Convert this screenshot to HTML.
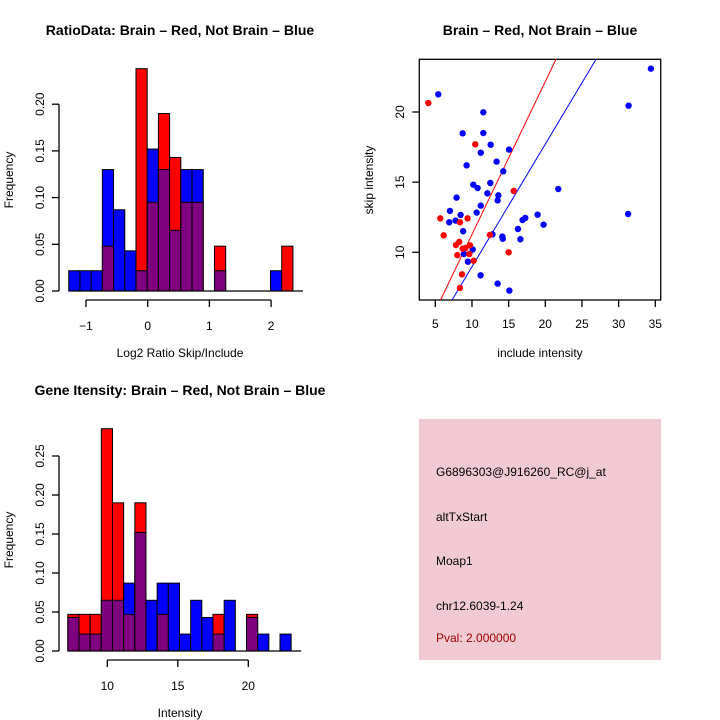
<!DOCTYPE html>
<html><head><meta charset="utf-8"><style>
html,body{margin:0;padding:0;background:#fff;}
svg{display:block;font-family:"Liberation Sans",sans-serif;}
</style></head><body>
<svg id="c" width="720" height="720" viewBox="0 0 720 720">
<rect x="0" y="0" width="720" height="720" fill="#fff"/>
<text x="180" y="35" font-size="14" font-weight="bold" text-anchor="middle">RatioData: Brain – Red, Not Brain – Blue</text>
<text x="540" y="35" font-size="14" font-weight="bold" text-anchor="middle">Brain – Red, Not Brain – Blue</text>
<text x="180" y="395" font-size="14" font-weight="bold" text-anchor="middle">Gene Itensity: Brain – Red, Not Brain – Blue</text>
<text x="180" y="357" font-size="12" text-anchor="middle">Log2 Ratio Skip/Include</text>
<text x="180" y="717" font-size="12" text-anchor="middle">Intensity</text>
<text x="540" y="357" font-size="12" text-anchor="middle">include intensity</text>
<text transform="translate(13,180) rotate(-90)" font-size="12" text-anchor="middle">Frequency</text>
<text transform="translate(13,540) rotate(-90)" font-size="12" text-anchor="middle">Frequency</text>
<text transform="translate(373,180) rotate(-90)" font-size="12" text-anchor="middle">skip intensity</text>
<g>
<rect x="419" y="419" width="242" height="241" fill="#f2cad3"/>
<text x="436" y="476" font-size="12">G6896303@J916260_RC@j_at</text>
<text x="436" y="521" font-size="12">altTxStart</text>
<text x="436" y="565" font-size="12">Moap1</text>
<text x="436" y="610" font-size="12">chr12.6039-1.24</text>
<text x="436" y="642" font-size="12" fill="#a00000">Pval: 2.000000</text>
</g>
<g id="g1"></g><g id="g2"></g><g id="g3"></g>
</svg>
<script>
// Ratio histogram data
const ratioBinStart = -1.28, ratioBinWidth = 0.1817;
const ratioBlue = [0.0217,0.0217,0.0217,0.13,0.087,0.043,0.0217,0.152,0.13,0.065,0.13,0.13,0,0.0217,0,0,0,0,0.0217,0];
const ratioRed  = [0,0,0,0.048,0,0,0.238,0.095,0.19,0.143,0.095,0.095,0,0.048,0,0,0,0,0,0.048];
const ratioXTicks = [-1,0,1,2];
const ratioYTicks = ["0.00","0.05","0.10","0.15","0.20"];
// Intensity histogram data
const intBinStart = 7.2, intBinWidth = 0.792;
const intBlue = [0.043,0.0217,0.0217,0.065,0.065,0.087,0.152,0.065,0.087,0.087,0.0217,0.065,0.043,0.0217,0.065,0,0.043,0.0217,0,0.0217];
const intRed  = [0.047,0.047,0.047,0.285,0.19,0.047,0.19,0,0.047,0,0,0,0,0.047,0,0,0.047,0,0,0];
const intXTicks = [10,15,20];
const intYTicks = ["0.00","0.05","0.10","0.15","0.20","0.25"];
// Scatter data
const blueX = [5.4,11.55,8.73,11.55,12.55,15.05,11.2,13.36,9.27,14.27,10.18,10.77,12.5,12.1,13.6,13.5,21.77,7.9,11.2,7.0,10.64,8.45,7.77,6.9,18.95,17.27,16.9,19.77,8.8,16.27,12.8,14.14,14.2,16.6,10.1,8.9,9.45,11.18,13.5,15.1,31.36,31.3,34.4];
const blueY = [21.26,19.98,18.48,18.5,17.67,17.32,17.1,16.46,16.2,15.77,14.82,14.58,14.94,14.2,14.06,13.7,14.51,13.9,13.33,12.95,12.83,12.66,12.26,12.14,12.68,12.45,12.3,11.97,11.5,11.66,11.28,11.12,10.97,10.93,10.2,9.88,9.33,8.36,7.77,7.27,20.45,12.73,23.09];
const redX = [4.05,10.45,15.7,5.68,9.4,8.36,6.14,12.45,8.27,7.82,9.73,8.73,9.1,8.0,9.64,10.23,15.0,8.64,8.36];
const redY = [20.64,17.7,14.37,12.42,12.42,12.14,11.21,11.24,10.74,10.52,10.5,10.26,10.3,9.8,9.88,9.4,10.0,8.43,7.46];
const fitRed = [0.37,1.09];   // intercept, slope
const fitBlue = [0.23,0.874];
const scXTicks = [5,10,15,20,25,30,35];
const scYTicks = [10,15,20];

const NS="http://www.w3.org/2000/svg";
function mk(parent,tag,attrs){const e=document.createElementNS(NS,tag);for(const k in attrs)e.setAttribute(k,attrs[k]);parent.appendChild(e);return e;}

function hist(g,prefix,binStart,binW,blue,red,xTicks,yTicks,ax){
  const sx=v=>ax.x0+(v-ax.v0)*ax.kx, sy=v=>ax.base-v*ax.ky;
  for(let i=0;i<blue.length;i++){
    const b=blue[i],r=red[i];
    const xa=sx(binStart+i*binW), xb=sx(binStart+(i+1)*binW);
    const hi=Math.max(b,r), lo=Math.min(b,r);
    if(hi>0){
      const e=mk(g,'rect',{x:xa,y:sy(hi),width:xb-xa,height:sy(0)-sy(hi),fill:b>=r?'#0000ff':'#ff0000',stroke:'#000','stroke-width':1});
      
      
    }
    if(lo>0){
      const e=mk(g,'rect',{x:xa,y:sy(lo),width:xb-xa,height:sy(0)-sy(lo),fill:'#7f007f',stroke:'#000','stroke-width':1});
      
      
    }
  }
  const xe=sx(binStart), xr=sx(binStart+blue.length*binW);
  const bl=mk(g,'line',{x1:xe,x2:xr+10,y1:ax.base,y2:ax.base,stroke:'#000','stroke-width':1.3});
  
  
  const yt=yTicks.map(Number);
  const ya=mk(g,'line',{x1:59,x2:59,y1:sy(yt[0]),y2:sy(yt[yt.length-1]),stroke:'#000','stroke-width':1.3});
  
  
  yTicks.forEach(t=>{const y=sy(+t);
    mk(g,'line',{x1:52,x2:59,y1:y,y2:y,stroke:'#000','stroke-width':1.3});
    const tx=mk(g,'text',{transform:`translate(44,${y}) rotate(-90)`,'font-size':12,'text-anchor':'middle'});
    tx.textContent=t;
    
    
  });
  const xy=ax.base+9;
  const xa=mk(g,'line',{x1:sx(xTicks[0]),x2:sx(xTicks[xTicks.length-1]),y1:xy,y2:xy,stroke:'#000','stroke-width':1.3});
  
  
  xTicks.forEach(t=>{const x=sx(t);
    mk(g,'line',{x1:x,x2:x,y1:xy,y2:xy+7,stroke:'#000','stroke-width':1.3});
    const tx=mk(g,'text',{x:x,y:xy+30,'font-size':12,'text-anchor':'middle'});
    tx.textContent=t<0?'−'+Math.abs(t):t;
    
    
  });
}
hist(document.getElementById('g1'),'ratio',ratioBinStart,ratioBinWidth,ratioBlue,ratioRed,ratioXTicks,ratioYTicks,{x0:147.7,v0:0,kx:61.7,base:291,ky:934});
hist(document.getElementById('g3'),'intensity',intBinStart,intBinWidth,intBlue,intRed,intXTicks,intYTicks,{x0:107.3,v0:10,kx:14.1,base:651,ky:780});

(function(){
  const g=document.getElementById('g2');
  const L=419.3,R=660.7,T=59.3,B=300;
  const sx=v=>435.3+(v-5)*7.333, sy=v=>252.3-(v-10)*14.03;
  const defs=mk(g,'clipPath',{id:'clip'});mk(defs,'rect',{x:L,y:T,width:R-L,height:B-T});
  const box=mk(g,'rect',{x:L,y:T,width:R-L,height:B-T,fill:'none',stroke:'#000','stroke-width':1.3});
  
  
  [[fitRed,'#ff0000','red'],[fitBlue,'#0000ff','blue']].forEach(([f,c,n])=>{
    const x1=0,x2=40;
    const l=mk(g,'line',{x1:sx(x1),y1:sy(f[0]+f[1]*x1),x2:sx(x2),y2:sy(f[0]+f[1]*x2),stroke:c,'stroke-width':1,'clip-path':'url(#clip)'});
    
    
  });
  blueX.forEach((x,i)=>{const p=mk(g,'circle',{cx:sx(x),cy:sy(blueY[i]),r:3.2,fill:'#0000ff'});
    
    });
  redX.forEach((x,i)=>{const p=mk(g,'circle',{cx:sx(x),cy:sy(redY[i]),r:3.2,fill:'#ff0000'});
    
    });
  scXTicks.forEach(t=>{const x=sx(t);
    mk(g,'line',{x1:x,x2:x,y1:B,y2:B+7,stroke:'#000','stroke-width':1.3});
    const tx=mk(g,'text',{x:x,y:B+28,'font-size':12,'text-anchor':'middle'});tx.textContent=t;
    
    });
  scYTicks.forEach(t=>{const y=sy(t);
    mk(g,'line',{x1:L-7,x2:L,y1:y,y2:y,stroke:'#000','stroke-width':1.3});
    const tx=mk(g,'text',{transform:`translate(404,${y}) rotate(-90)`,'font-size':12,'text-anchor':'middle'});tx.textContent=t;
    
    });
})();
</script>
</body></html>
